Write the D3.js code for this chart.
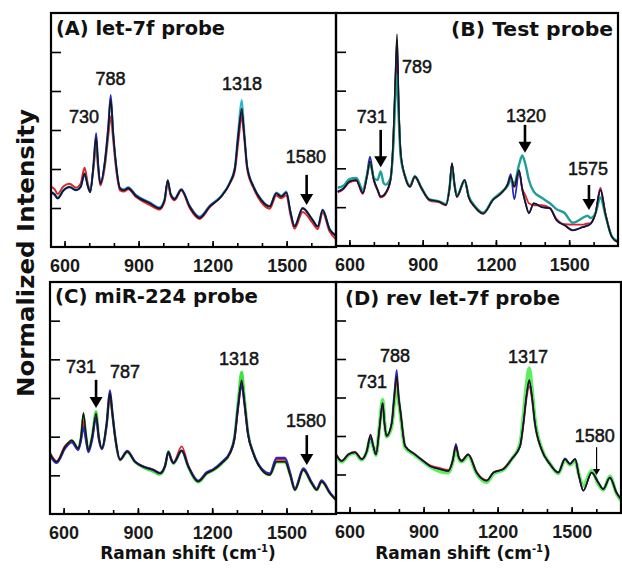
<!DOCTYPE html>
<html>
<head>
<meta charset="utf-8">
<script src="https://cdn.jsdelivr.net/npm/d3@7"></script>
<style>
  body { margin: 0; background: #fff; }
</style>
</head>
<body>
<div id="chart"></div>
<script>
// Raman spectra, intensity in tick units (0 = bottom, 6 = top)

// (A) let-7f probe
const wnA = [545,560,572,595,620,647,665,681,695,704,716,728,736,745,764,777,787,797,808,825,840,858,890,945,985,1005,1018,1030,1046,1073,1107,1147,1188,1235,1269,1290,1304,1318,1328,1340,1365,1397,1431,1458,1478,1499,1515,1532,1565,1605,1626,1646,1674,1700];
const aBlack = [1.41,1.35,1.25,1.45,1.54,1.46,1.55,1.89,1.55,1.41,2.00,2.80,2.10,1.62,2.20,3.00,3.77,2.90,2.15,1.50,1.45,1.50,1.30,1.12,0.99,1.20,1.72,1.35,1.22,1.47,1.03,0.74,1.03,1.29,1.63,2.00,2.85,3.55,2.90,2.05,1.55,1.20,1.03,1.37,1.29,1.39,0.90,0.52,0.99,0.69,0.52,0.94,0.45,0.28];
const aRed   = [1.55,1.48,1.36,1.55,1.62,1.52,1.62,2.03,1.60,1.45,1.95,2.55,2.00,1.58,2.10,2.85,3.35,2.75,2.05,1.45,1.42,1.48,1.28,1.08,0.96,1.16,1.62,1.32,1.20,1.45,1.00,0.72,1.02,1.30,1.62,1.95,2.70,3.35,2.80,2.00,1.52,1.15,0.98,1.32,1.25,1.33,0.84,0.47,0.90,0.62,0.46,0.88,0.40,0.20];
const aBlue  = [1.40,1.33,1.24,1.44,1.53,1.45,1.53,1.85,1.53,1.40,2.05,2.92,2.15,1.63,2.25,3.10,3.90,2.95,2.15,1.50,1.46,1.52,1.32,1.13,1.00,1.20,1.70,1.35,1.24,1.48,1.05,0.76,1.05,1.30,1.63,2.02,2.88,3.45,2.88,2.06,1.56,1.21,1.05,1.38,1.30,1.40,0.92,0.54,1.00,0.70,0.53,0.95,0.46,0.30];
const aCyan  = [1.42,1.36,1.27,1.46,1.55,1.47,1.55,1.86,1.55,1.42,2.00,2.78,2.10,1.63,2.22,3.05,3.80,2.92,2.17,1.52,1.48,1.53,1.33,1.15,1.02,1.22,1.70,1.37,1.25,1.48,1.06,0.78,1.06,1.32,1.66,2.05,3.00,3.77,3.00,2.08,1.57,1.22,1.05,1.40,1.32,1.42,0.93,0.55,1.00,0.70,0.54,0.96,0.47,0.30];

// (B) Test probe
const wnB = [552,575,600,628,655,672,684,700,715,728,740,748,768,780,788,795,802,810,828,848,868,895,928,968,995,1010,1020,1030,1040,1072,1088,1115,1148,1188,1221,1248,1261,1275,1295,1308,1321,1335,1355,1388,1421,1448,1481,1515,1555,1575,1588,1608,1628,1648,1675,1700];
const bBlack = [1.40,1.48,1.66,1.70,1.36,1.80,2.18,1.70,1.45,1.27,1.30,1.36,1.70,2.80,4.30,5.45,3.60,2.40,1.79,1.53,1.79,1.49,1.19,1.14,1.06,1.50,2.14,1.60,1.27,1.70,1.27,1.00,0.84,1.19,1.36,1.58,1.79,1.53,1.96,1.45,1.10,0.84,1.10,1.00,0.97,0.66,0.53,0.40,0.48,0.52,0.57,0.84,1.45,0.84,0.23,0.10];
const bTeal  = [1.50,1.55,1.72,1.75,1.45,1.82,2.15,1.75,1.70,1.92,1.62,1.58,1.75,2.60,3.80,4.40,3.30,2.30,1.80,1.55,1.80,1.50,1.20,1.15,1.08,1.50,2.05,1.60,1.30,1.68,1.30,1.02,0.86,1.20,1.38,1.55,1.70,1.62,2.10,2.33,2.10,1.70,1.40,1.24,1.10,0.95,0.85,0.60,0.72,0.78,0.72,0.85,1.25,0.80,0.25,0.12];
const bRed   = [1.38,1.46,1.64,1.68,1.34,1.78,2.15,1.68,1.43,1.25,1.28,1.34,1.68,2.70,4.10,4.98,3.50,2.35,1.77,1.52,1.77,1.47,1.17,1.12,1.05,1.48,2.10,1.58,1.26,1.68,1.26,0.99,0.83,1.18,1.35,1.56,1.76,1.52,1.92,1.48,1.30,1.10,1.05,1.05,0.98,0.70,0.56,0.55,0.55,0.58,0.58,0.85,1.50,0.86,0.24,0.10];
const bBlue  = [1.40,1.48,1.66,1.70,1.38,1.85,2.30,1.72,1.46,1.28,1.31,1.37,1.70,2.78,4.25,5.30,3.55,2.40,1.79,1.53,1.79,1.49,1.19,1.14,1.06,1.50,2.12,1.60,1.27,1.70,1.27,1.00,0.84,1.19,1.36,1.60,1.85,1.20,1.90,1.45,1.12,0.86,1.10,1.00,0.97,0.67,0.54,0.41,0.49,0.53,0.58,0.85,1.44,0.84,0.23,0.10];

// (C) miR-224 probe
const wnC = [545,572,606,633,659,670,680,690,700,715,731,742,754,774,787,797,808,828,857,888,922,962,989,1010,1023,1035,1043,1077,1104,1144,1178,1205,1238,1272,1290,1305,1319,1330,1345,1366,1400,1433,1460,1494,1515,1534,1568,1602,1622,1642,1676,1700];
const cBlack = [1.57,1.35,1.74,1.91,1.70,2.00,2.62,2.10,1.65,2.00,2.60,2.00,1.70,2.34,3.12,2.60,2.00,1.40,1.61,1.35,1.22,1.14,1.05,1.25,1.61,1.40,1.31,1.65,1.22,0.84,1.05,1.14,1.31,1.57,1.95,2.80,3.46,2.90,2.05,1.57,1.14,1.01,1.35,1.35,1.00,0.62,1.14,0.79,0.62,0.84,0.53,0.36];
const cRed   = [1.58,1.37,1.76,1.88,1.68,1.95,2.40,2.00,1.63,1.95,2.50,1.97,1.70,2.30,3.05,2.55,1.98,1.40,1.62,1.36,1.23,1.15,1.06,1.25,1.58,1.42,1.33,1.75,1.25,0.85,1.06,1.15,1.32,1.57,1.92,2.75,3.40,2.86,2.05,1.57,1.15,1.02,1.40,1.40,1.02,0.63,1.15,0.80,0.63,0.84,0.53,0.36];
const cBlue  = [1.52,1.32,1.70,1.85,1.66,1.90,2.25,1.92,1.60,1.92,2.50,1.95,1.68,2.35,3.20,2.62,2.00,1.42,1.63,1.36,1.23,1.14,1.06,1.26,1.60,1.40,1.32,1.63,1.23,0.86,1.08,1.16,1.34,1.60,1.96,2.80,3.35,2.86,2.06,1.58,1.17,1.05,1.45,1.45,1.06,0.66,1.18,0.82,0.65,0.87,0.55,0.37];
const cGreen = [1.57,1.35,1.74,1.90,1.70,1.98,2.55,2.05,1.66,2.02,2.65,2.00,1.70,2.32,3.10,2.58,2.00,1.40,1.60,1.34,1.20,1.10,1.02,1.24,1.62,1.40,1.30,1.63,1.20,0.82,1.04,1.13,1.30,1.58,2.00,2.95,3.68,3.05,2.10,1.58,1.14,1.01,1.34,1.34,1.00,0.62,1.13,0.78,0.62,0.83,0.53,0.36];

// (D) rev let-7f probe
const wnD = [545,568,595,622,649,669,685,696,707,721,734,742,750,771,781,791,799,807,825,865,899,926,966,1000,1018,1031,1042,1054,1081,1115,1156,1183,1223,1257,1291,1304,1318,1328,1339,1351,1378,1412,1446,1473,1493,1514,1530,1547,1581,1608,1628,1655,1682,1700];
const dBlack = [1.52,1.35,1.52,1.58,1.40,1.60,2.04,1.75,1.52,2.20,2.86,2.30,2.00,2.34,3.00,3.55,3.00,2.60,1.74,1.52,1.35,1.22,1.14,1.09,1.35,1.74,1.45,1.35,1.52,1.05,0.84,1.05,1.14,1.40,1.74,2.30,3.10,3.46,3.05,2.35,1.65,1.27,1.05,1.40,1.27,1.40,0.95,0.58,1.05,0.79,0.62,0.92,0.53,0.36];
const dGreen = [1.50,1.33,1.50,1.56,1.38,1.58,1.95,1.72,1.50,2.25,2.95,2.35,1.98,2.25,2.85,3.30,2.90,2.50,1.70,1.50,1.33,1.20,1.08,1.05,1.32,1.68,1.42,1.33,1.48,1.02,0.80,1.02,1.12,1.40,1.80,2.50,3.40,3.76,3.25,2.45,1.68,1.28,1.03,1.38,1.25,1.36,0.98,0.70,1.10,0.75,0.60,0.95,0.50,0.33];
const dRed   = [1.53,1.36,1.53,1.59,1.41,1.60,2.00,1.74,1.52,2.15,2.80,2.28,2.00,2.32,2.95,3.45,2.95,2.55,1.74,1.53,1.36,1.24,1.17,1.12,1.36,1.70,1.46,1.37,1.53,1.07,0.85,1.06,1.15,1.41,1.72,2.25,3.00,3.30,2.95,2.30,1.65,1.28,1.06,1.40,1.27,1.40,0.95,0.58,1.04,0.79,0.62,0.91,0.52,0.35];
const dBlue  = [1.52,1.35,1.52,1.57,1.40,1.58,1.95,1.73,1.52,2.20,2.86,2.30,2.00,2.36,3.10,3.72,3.05,2.62,1.75,1.52,1.35,1.22,1.14,1.09,1.38,1.80,1.47,1.36,1.52,1.05,0.84,1.05,1.14,1.40,1.74,2.30,3.10,3.42,3.03,2.35,1.65,1.27,1.05,1.42,1.28,1.41,0.95,0.58,1.05,0.80,0.62,0.92,0.53,0.36];

// axis ticks
const xMinorTicks = [600,700,800,900,1000,1100,1200,1300,1400,1500,1600];
const xLabelTicks = [600,900,1200,1500];
const yTicks = [1,2,3,4,5];

// peak labels (wavenumber, intensity of label baseline) and arrows
const peaksA = [{t:"730", wn:679, v:3.18}, {t:"788", wn:786, v:4.15}, {t:"1318", wn:1319, v:4.03}, {t:"1580", wn:1578, v:2.15}];
const arrowsA = [{wn:1581, v0:1.85, v1:1.08}];
const peaksB = [{t:"789", wn:877, v:4.46}, {t:"731", wn:692, v:3.17}, {t:"1320", wn:1323, v:3.19}, {t:"1575", wn:1577, v:1.83}];
const arrowsB = [{wn:728, v0:2.99, v1:2.03}, {wn:1319, v0:3.12, v1:2.40}, {wn:1581, v0:1.57, v1:0.93}];
const peaksC = [{t:"731", wn:670, v:3.65}, {t:"787", wn:848, v:3.52}, {t:"1318", wn:1308, v:3.85}, {t:"1580", wn:1579, v:2.25}];
const arrowsC = [{wn:731, v0:3.47, v1:2.74}, {wn:1582, v0:2.04, v1:1.27}];
const peaksD = [{t:"731", wn:691, v:3.25}, {t:"788", wn:784, v:3.92}, {t:"1317", wn:1323, v:3.90}, {t:"1580", wn:1594, v:1.84}];
const arrowsD = [{wn:1601, v0:1.71, v1:0.99}];

const BLACK = "#161616", RED = "#d9252b", BLUE = "#2a2ab8";

const panels = [
  {title:"(A) let-7f probe", left:51, right:336, top:13, bottom:247, tx:56, ty:35, anchor:"start", tlen:169,
   wn:wnA, peaks:peaksA, arrows:arrowsA, thin:false,
   series:[{v:aRed,c:RED,w:2},{v:aCyan,c:"#2ab5c8",w:2},{v:aBlue,c:BLUE,w:1.8},{v:aBlack,c:BLACK,w:1.5}]},
  {title:"(B) Test probe", left:336, right:618, top:13, bottom:246, tx:613, ty:36, anchor:"end", tlen:162,
   wn:wnB, peaks:peaksB, arrows:arrowsB, thin:false,
   series:[{v:bRed,c:RED,w:1.8},{v:bBlue,c:BLUE,w:1.8},{v:bTeal,c:"#1f9e9a",w:2.4},{v:bBlack,c:BLACK,w:1.5}]},
  {title:"(C) miR-224 probe", left:50, right:336, top:282, bottom:514, tx:55, ty:303, anchor:"start", tlen:203,
   wn:wnC, peaks:peaksC, arrows:arrowsC, thin:false,
   series:[{v:cGreen,c:"#40e040",w:2.6},{v:cRed,c:RED,w:1.8},{v:cBlue,c:BLUE,w:2.2},{v:cBlack,c:BLACK,w:1.5}]},
  {title:"(D) rev let-7f probe", left:336, right:621, top:282, bottom:513, tx:345, ty:305, anchor:"start", tlen:215,
   wn:wnD, peaks:peaksD, arrows:arrowsD, thin:true,
   series:[{v:dGreen,c:"#5cf05c",w:3.6},{v:dRed,c:RED,w:1.6},{v:dBlue,c:BLUE,w:1.6},{v:dBlack,c:BLACK,w:1.5}]}
];

const svg = d3.select("#chart").append("svg")
    .attr("width", 622)
    .attr("height", 569);

panels.forEach((p, k) => {
  const x = d3.scaleLinear().domain([545, 1700]).range([p.left, p.right]);
  const y = d3.scaleLinear().domain([0, 6]).range([p.bottom, p.top]);
  const g = svg.append("g");

  g.append("clipPath").attr("id", "clip" + k)
    .append("rect")
      .attr("x", p.left).attr("y", p.top)
      .attr("width", p.right - p.left).attr("height", p.bottom - p.top);

  // spectra
  const plot = g.append("g").attr("clip-path", `url(#clip${k})`);
  p.series.forEach(s => {
    const line = d3.line()
      .x((d, i) => x(p.wn[i]))
      .y(d => y(d))
      .curve(d3.curveMonotoneX);
    plot.append("path")
      .datum(s.v)
      .attr("d", line)
      .attr("fill", "none")
      .attr("stroke", s.c)
      .attr("stroke-width", s.w)
      .attr("stroke-linejoin", "round");
  });

  // minor x ticks (inward)
  g.append("g")
    .attr("transform", `translate(0,${p.bottom})`)
    .call(d3.axisBottom(x).tickValues(xMinorTicks).tickSize(-4).tickFormat(""))
    .call(a => a.select(".domain").remove())
    .selectAll("line").attr("stroke", "#000").attr("stroke-width", 1.6);

  // labelled x ticks
  g.append("g")
    .attr("transform", `translate(0,${p.bottom})`)
    .call(d3.axisBottom(x).tickValues(xLabelTicks).tickSize(-6).tickPadding(12).tickFormat(d3.format("d")))
    .call(a => a.select(".domain").remove())
    .call(a => a.selectAll("line").attr("stroke", "#000").attr("stroke-width", 1.6))
    .call(a => a.selectAll("text")
      .attr("fill", "#1a1a1a")
      .style("font-family", "'Liberation Sans', Arial, sans-serif")
      .style("font-size", "18px")
      .style("font-weight", "bold"));

  // y ticks (inward, no labels)
  g.append("g")
    .attr("transform", `translate(${p.left},0)`)
    .call(d3.axisLeft(y).tickValues(yTicks).tickSize(-10).tickFormat(""))
    .call(a => a.select(".domain").remove())
    .selectAll("line").attr("stroke", "#000").attr("stroke-width", 1.6);

  // frame
  g.append("rect")
    .attr("x", p.left).attr("y", p.top)
    .attr("width", p.right - p.left).attr("height", p.bottom - p.top)
    .attr("fill", "none").attr("stroke", "#000").attr("stroke-width", 2.2);

  // panel title
  g.append("text")
    .attr("x", p.tx).attr("y", p.ty)
    .attr("text-anchor", p.anchor)
    .attr("textLength", p.tlen)
    .attr("lengthAdjust", "spacingAndGlyphs")
    .style("font-family", "'DejaVu Sans', Verdana, sans-serif")
    .style("font-weight", "bold")
    .style("font-size", "19px")
    .attr("fill", "#111")
    .text(p.title);

  // peak labels
  g.selectAll(".peak")
    .data(p.peaks)
    .enter().append("text")
      .attr("x", d => x(d.wn))
      .attr("y", d => y(d.v))
      .attr("text-anchor", "middle")
      .style("font-family", "'Liberation Sans', Arial, sans-serif")
      .style("font-size", "18px")
      .attr("fill", "#141414")
      .attr("stroke", "#141414")
      .attr("stroke-width", 0.5)
      .text(d => d.t);

  // arrows
  p.arrows.forEach(a => {
    const ax = x(a.wn), y0 = y(a.v0), y1 = y(a.v1);
    const hw = p.thin ? 3.5 : 6.5, hh = p.thin ? 6 : 11;
    g.append("line")
      .attr("x1", ax).attr("x2", ax)
      .attr("y1", y0).attr("y2", y1 - hh + 1)
      .attr("stroke", "#000")
      .attr("stroke-width", p.thin ? 1.2 : 2.6);
    g.append("path")
      .attr("d", `M${ax - hw},${y1 - hh}L${ax + hw},${y1 - hh}L${ax},${y1}Z`)
      .attr("fill", "#000");
  });
});

// x axis titles
[{cx:188}, {cx:463}].forEach(t => {
  const txt = svg.append("text")
    .attr("x", t.cx).attr("y", 559)
    .attr("text-anchor", "middle")
    .style("font-family", "'DejaVu Sans', Verdana, sans-serif")
    .style("font-weight", "bold")
    .style("font-size", "17px")
    .attr("fill", "#111");
  txt.append("tspan").text("Raman shift (cm");
  txt.append("tspan").attr("dy", -7).style("font-size", "10px").text("-1");
  txt.append("tspan").attr("dy", 7).text(")");
});

// y axis title
svg.append("text")
  .attr("transform", "translate(34,253) rotate(-90)")
  .attr("text-anchor", "middle")
  .attr("textLength", 288)
  .attr("lengthAdjust", "spacingAndGlyphs")
  .style("font-family", "'DejaVu Sans', Verdana, sans-serif")
  .style("font-weight", "bold")
  .style("font-size", "23px")
  .attr("fill", "#111")
  .text("Normalized Intensity");
</script>
</body>
</html>
